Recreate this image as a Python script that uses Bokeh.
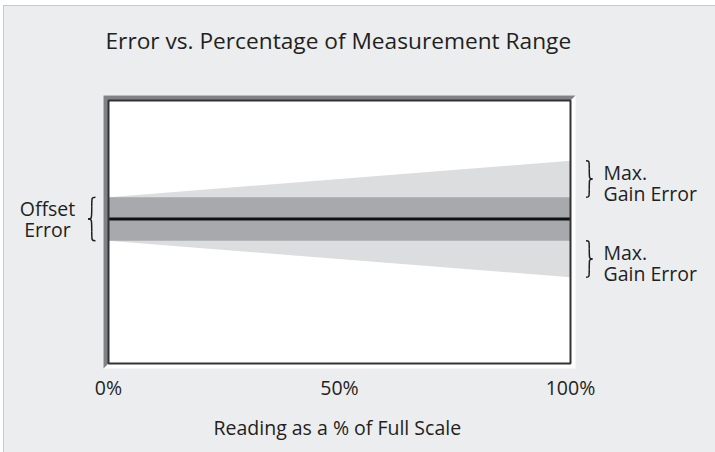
import numpy as np
from bokeh.plotting import figure
from bokeh.models import Range1d, FixedTicker, Title, ColumnDataSource
from bokeh.core.properties import value
from bokeh.embed import file_html
from bokeh.resources import INLINE

# ---------------- data ----------------
reading_pct = [0, 100]            # reading as % of full scale
offset_error = 0.6                # +/- offset error, constant across the range
gain_error_full = 1.0             # +/- gain error at 100 % of range (grows linearly)
tick_values = [0, 50, 100]
tick_labels = ["0%", "50%", "100%"]
title_text = "Error vs. Percentage of Measurement Range"
x_title = "Reading as a % of Full Scale"
left_label = "Offset\nError"
right_label = "Max.\nGain Error"

# ---------------- style / layout ----------------
W, H = 715, 452
T, B = 60, 82
FONT = "Open Sans"
BG = "#ECEDEF"
TXT = "#231F20"
LIGHT = "#DCDDDF"
DARK = "#A7A9AC"
BEVEL = "#808285"
LBL = "19.5px"

X0_PX, X1_PX = 108.0, 570.0       # page x of 0 % and 100 %
Y0_PX, PX_PER_UNIT = 218.5, 36.4  # page y of zero error, px per error unit


def dx(px):
    return (px - X0_PX) / (X1_PX - X0_PX) * 100.0


def dy(py):
    return (Y0_PX - py) / PX_PER_UNIT


p = figure(width=W, height=H,
           x_range=Range1d(dx(0), dx(W)),
           y_range=Range1d(dy(H - B), dy(T)),
           output_backend="svg", toolbar_location=None, y_axis_location=None,
           min_border_left=0, min_border_right=0,
           min_border_top=T, min_border_bottom=B,
           background_fill_color=None, border_fill_color=None,
           outline_line_color=None)
p.styles = {"background-color": BG,
            "box-shadow": "inset 3px 5px 0 0 #FFFFFF, inset 4px 6px 0 0 #C9CACC"}
p.grid.visible = False

# ---- bevelled box ----
ol, orr, ot, ob = dx(103), dx(575), dy(95), dy(368)
il, ir, it, ib = dx(108), dx(570), dy(100), dy(363)
p.quad(left=[ol], right=[orr], top=[ot], bottom=[ob], fill_color="white", line_color=None)
p.patch(x=[ol, ol, orr, ir, il, il], y=[ob, ot, ot, it, it, ib],
        fill_color=BEVEL, line_color=None)
p.quad(left=[il], right=[ir], top=[it], bottom=[ib], fill_color="white", line_color=None)

# ---- error bands ----
x = np.array(reading_pct, dtype=float)
total = offset_error + gain_error_full * x / 100.0
p.varea(x=x, y1=-total, y2=total, fill_color=LIGHT)
p.varea(x=x, y1=[-offset_error] * len(x), y2=[offset_error] * len(x), fill_color=DARK)
p.line(x=x, y=[0] * len(x), line_color="#111111", line_width=3)

# inner outline
p.quad(left=[il], right=[ir], top=[it], bottom=[ib], fill_color=None,
       line_color="#333333", line_width=2)


# ---- braces ----
def brace(x_end, x_tip, y_top, y_bot):
    xs = (x_end + x_tip) / 2.0
    ym = (y_top + y_bot) / 2.0
    h = y_top - y_bot
    return [
        (x_end, y_top, xs, y_top - 0.22 * h, xs, y_top, xs, y_top),
        (xs, y_top - 0.22 * h, x_tip, ym, xs, ym, xs, ym),
        (xs, y_bot + 0.22 * h, x_tip, ym, xs, ym, xs, ym),
        (x_end, y_bot, xs, y_bot + 0.22 * h, xs, y_bot, xs, y_bot),
    ]


full = offset_error + gain_error_full
segs = (brace(dx(95), dx(87.5), offset_error, -offset_error)
        + brace(dx(585.5), dx(592), full, offset_error)
        + brace(dx(585.5), dx(592), -offset_error, -full))
cols = list(zip(*segs))
src = ColumnDataSource(dict(x0=cols[0], y0=cols[1], x1=cols[2], y1=cols[3],
                            cx0=cols[4], cy0=cols[5], cx1=cols[6], cy1=cols[7]))
p.bezier(x0="x0", y0="y0", x1="x1", y1="y1", cx0="cx0", cy0="cy0",
         cx1="cx1", cy1="cy1", source=src, line_color=TXT, line_width=1.5)

# ---- side labels ----
p.text(x=[dx(47)], y=[0], text=[left_label], text_align="center",
       text_baseline="middle", text_font=value(FONT), text_font_size=LBL,
       text_color=TXT, text_line_height=0.8, y_offset=0)
p.text(x=[dx(603)] * 2, y=[(full + offset_error) / 2, -(full + offset_error) / 2],
       text=[right_label] * 2, text_align="left", text_baseline="middle",
       text_font=value(FONT), text_font_size=LBL, text_color=TXT,
       text_line_height=0.8, y_offset=4)

# ---- axis ----
ax = p.xaxis[0]
ax.ticker = FixedTicker(ticks=tick_values)
ax.major_label_overrides = dict(zip(tick_values, tick_labels))
ax.axis_line_color = None
ax.major_tick_line_color = None
ax.minor_tick_line_color = None
ax.major_tick_in = 0
ax.major_tick_out = 0
ax.major_label_standoff = 3
ax.major_label_text_font = FONT
ax.major_label_text_font_size = LBL
ax.major_label_text_color = TXT

p.title.text = title_text
p.title.align = "left"
p.title.offset = 105
p.title.text_font = FONT
p.title.text_font_size = "22.7px"
p.title.text_font_style = "normal"
p.title.text_color = TXT

p.add_layout(Title(text=x_title, align="left", offset=213, text_font=FONT,
                   text_font_size=LBL, text_font_style="normal",
                   text_color=TXT, standoff=17), "below")

open("out.html", "w").write(file_html(p, INLINE))
